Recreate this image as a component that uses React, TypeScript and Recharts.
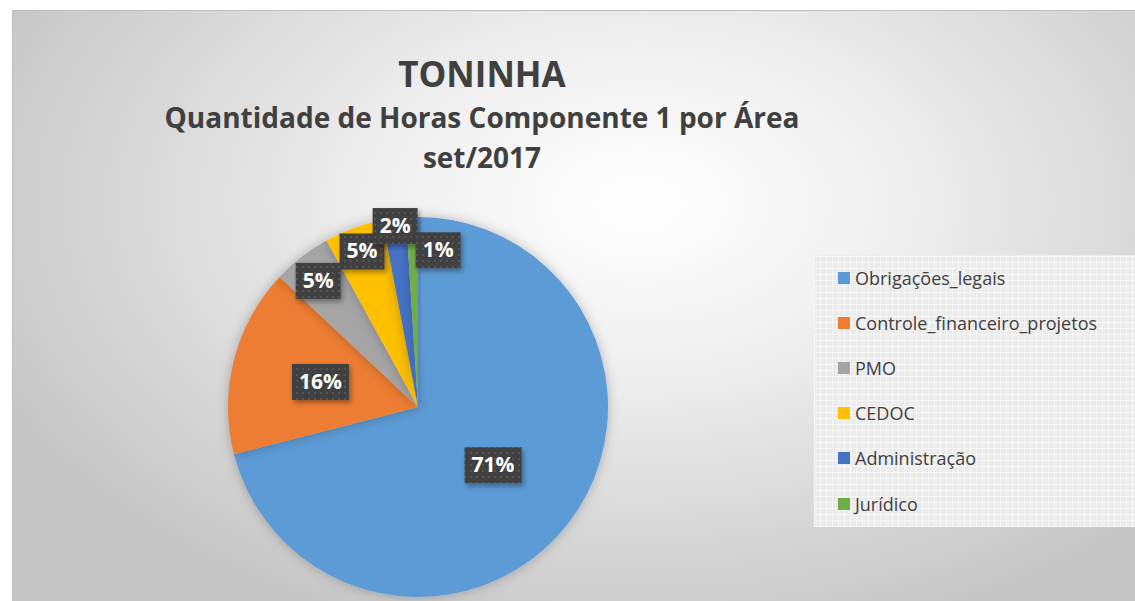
import { Legend, Pie, PieChart, Cell } from "recharts"

// Hours per area, Component 1, set/2017 (percent shares)
const areas = [
  "Obrigações_legais",
  "Controle_financeiro_projetos",
  "PMO",
  "CEDOC",
  "Administração",
  "Jurídico",
]
const hours = [71, 16, 5, 5, 2, 1]
const colors = ["#5b9bd5", "#ed7d31", "#a5a5a5", "#ffc000", "#4472c4", "#70ad47"]

const data = areas.map((name, i) => ({ name, value: hours[i] }))

const FONT = "'Open Sans', sans-serif"
const RAD = Math.PI / 180

// label distance from centre (fraction of radius) and small nudges, like Excel's best fit
const labelRadius = [0.5, 0.53, 0.84, 0.87, 0.96, 0.82]
const labelNudge = [
  [0, 0],
  [0, 0],
  [-2, 0],
  [0, 0],
  [0, 0],
  [25, -1],
]

function renderLabel(props: any) {
  const { cx, cy, midAngle, outerRadius, percent, index } = props
  const r = outerRadius * labelRadius[index]
  const x = cx + r * Math.cos(-midAngle * RAD) + labelNudge[index][0]
  const y = cy + r * Math.sin(-midAngle * RAD) + labelNudge[index][1]
  const text = `${Math.round(percent * 100)}%`
  const w = 21 + text.length * 12
  const h = 36
  return (
    <g>
      <rect x={x - w / 2} y={y - h / 2} width={w} height={h} fill="url(#dots)" filter="url(#boxShadow)" />
      <text
        x={x}
        y={y + 1}
        textAnchor="middle"
        dominantBaseline="middle"
        fill="#ffffff"
        fontFamily={FONT}
        fontWeight={700}
        fontSize={21}
      >
        {text}
      </text>
    </g>
  )
}

function LegendBox() {
  return (
    <div
      style={{
        width: 330,
        height: 272,
        boxSizing: "border-box",
        paddingTop: 0,
        paddingLeft: 24,
        background:
          "repeating-linear-gradient(0deg, rgba(255,255,255,0.55) 0 1px, transparent 1px 6px), repeating-linear-gradient(90deg, rgba(255,255,255,0.55) 0 1px, transparent 1px 6px), #ebebeb",
      }}
    >
      {areas.map((name, i) => (
        <div
          key={name}
          style={{ height: 45.2, display: "flex", alignItems: "center", fontFamily: FONT, fontSize: 18, color: "#404040" }}
        >
          <span style={{ display: "inline-block", width: 12, height: 12, background: colors[i], marginRight: 5 }} />
          {name}
        </div>
      ))}
    </div>
  )
}

const titleStyle = {
  position: "absolute" as const,
  left: 0,
  width: 964,
  textAlign: "center" as const,
  fontFamily: FONT,
  fontWeight: 700,
  color: "#404040",
  lineHeight: 1,
  whiteSpace: "nowrap" as const,
}

export default function App() {
  return (
    <div style={{ position: "absolute", left: 0, top: 0, width: 1135, height: 601, background: "#ffffff", overflow: "hidden" }}>
      <div
        style={{
          position: "absolute",
          left: 12,
          top: 10,
          width: 1140,
          height: 600,
          borderTop: "1px solid #bfbfbf",
          borderLeft: "1px solid #bfbfbf",
          background: "radial-gradient(ellipse 62% 75% at 55% 32%, #ffffff 0%, #f0f0f0 35%, #d6d6d6 75%, #c6c6c6 100%)",
        }}
      />
      <div style={{ ...titleStyle, top: 56, fontSize: 35 }}>TONINHA</div>
      <div style={{ ...titleStyle, top: 103, fontSize: 28 }}>Quantidade de Horas Componente 1 por Área</div>
      <div style={{ ...titleStyle, top: 143, fontSize: 28 }}>set/2017</div>
      <div style={{ position: "absolute", left: 0, top: 0 }}>
        <PieChart width={1135} height={601} margin={{ top: 0, right: 0, bottom: 0, left: 0 }}>
          <defs>
            <pattern id="dots" width="6" height="6" patternUnits="userSpaceOnUse">
              <rect width="6" height="6" fill="#404040" />
              <rect x="2" y="2" width="2" height="2" fill="#555555" />
            </pattern>
            <filter id="boxShadow" x="-30%" y="-30%" width="160%" height="160%">
              <feDropShadow dx="2" dy="3" stdDeviation="2.5" floodColor="#000000" floodOpacity="0.35" />
            </filter>
            <filter id="pieShadow" x="-20%" y="-20%" width="140%" height="140%">
              <feDropShadow dx="0" dy="0" stdDeviation="6" floodColor="#000000" floodOpacity="0.25" />
            </filter>
          </defs>
          <Pie
            data={data}
            dataKey="value"
            nameKey="name"
            cx={418}
            cy={407}
            outerRadius={190}
            startAngle={90}
            endAngle={-270}
            stroke="none"
            label={renderLabel}
            labelLine={false}
            isAnimationActive={false}
            style={{ filter: "url(#pieShadow)" }}
          >
            {data.map((d, i) => (
              <Cell key={d.name} fill={colors[i]} />
            ))}
          </Pie>
          <Legend
            layout="vertical"
            content={<LegendBox />}
            wrapperStyle={{ position: "absolute", left: 814, top: 255, width: 330 }}
          />
        </PieChart>
      </div>
    </div>
  )
}
